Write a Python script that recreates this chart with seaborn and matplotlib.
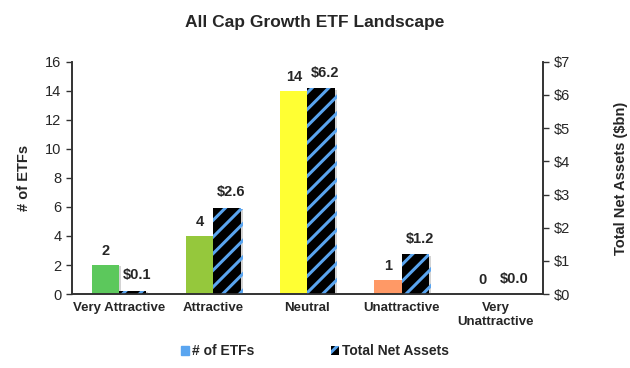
import matplotlib
matplotlib.use("Agg")
import matplotlib.pyplot as plt
import matplotlib.patheffects as pe
from matplotlib.patches import Patch
import seaborn as sns
import pandas as pd

categories = ["Very Attractive", "Attractive", "Neutral", "Unattractive", "Very\nUnattractive"]
num_etfs = [2, 4, 14, 1, 0]
net_assets = [0.1, 2.6, 6.2, 1.2, 0.0]
cat_colors = ["#5cc85c", "#95c83c", "#ffff33", "#ff9966", "#c8c8c8"]
series = ["# of ETFs", "Total Net Assets"]

sns.set_style("white")
plt.rcParams["font.family"] = ["Liberation Sans", "DejaVu Sans"]
plt.rcParams["hatch.linewidth"] = 2.2
plt.rcParams["hatch.color"] = "#5aa5f0"

df_cnt = pd.DataFrame({"cat": categories, "series": series[0], "value": num_etfs})
df_tna = pd.DataFrame({"cat": categories, "series": series[1], "value": net_assets})

fig = plt.figure(figsize=(6.3, 3.68), dpi=100)
ax1 = fig.add_axes([0.114, 0.201, 0.748, 0.631])
ax2 = ax1.twinx()

shadow = [pe.SimplePatchShadow(offset=(1.5, -1), shadow_rgbFace="#aaaaaa", alpha=0.5), pe.Normal()]

sns.barplot(data=df_cnt, x="cat", y="value", hue="series", hue_order=series,
            order=categories, dodge=True, width=0.58, ax=ax1, legend=False)
sns.barplot(data=df_tna, x="cat", y="value", hue="series", hue_order=series,
            order=categories, dodge=True, width=0.58, ax=ax2, legend=False)

bars1 = [p for p in ax1.patches if p.get_width() > 0]
bars2 = [p for p in ax2.patches if p.get_width() > 0]

for p, c, v in zip(bars1, cat_colors, num_etfs):
    p.set_facecolor(c)
    p.set_edgecolor(c)
    p.set_linewidth(0)
    p.set_path_effects(shadow)
    ax1.annotate(str(v), (p.get_x() + p.get_width() / 2, p.get_height()),
                 xytext=(0, 5), textcoords="offset points", ha="center", va="bottom",
                 fontsize=10.5, fontweight="bold")

for p, v in zip(bars2, net_assets):
    p.set_facecolor("black")
    p.set_edgecolor("#5aa5f0")
    p.set_hatch("//")
    p.set_linewidth(0)
    p.set_path_effects(shadow)
    ax2.annotate(f"${v:.1f}", (p.get_x() + p.get_width() / 2, p.get_height()),
                 xytext=(3, 6), textcoords="offset points", ha="center", va="bottom",
                 fontsize=10.5, fontweight="bold")

ax1.set_ylim(0, 16)
ax1.set_yticks(range(0, 17, 2))
ax2.set_ylim(0, 7)
ax2.set_yticks(range(0, 8))
ax2.set_yticklabels([f"${i}" for i in range(0, 8)])
ax1.set_xlim(-0.5, 4.5)

ax1.set_xticks(range(5))
ax1.set_xticklabels(categories, fontweight="bold", fontsize=9.5)
ax1.set_xticks([0.5, 1.5, 2.5, 3.5], minor=True)
ax1.tick_params(axis="x", which="major", length=0, pad=6)
ax1.tick_params(axis="x", which="minor", length=4, width=1, color="#333333", direction="out")
ax1.tick_params(axis="y", length=4, width=1, labelsize=10.5, color="#333333", direction="out", left=True)
ax2.tick_params(axis="y", length=4, width=1, labelsize=10.5, color="#333333", direction="out", right=True)

ax1.set_xlabel("")
ax1.set_ylabel("# of ETFs", fontweight="bold", fontsize=10.5, labelpad=10)
ax2.set_ylabel("Total Net Assets ($bn)", fontweight="bold", fontsize=10.5, labelpad=32)

for ax in (ax1, ax2):
    ax.spines["top"].set_visible(False)
    for s in ("left", "right", "bottom"):
        ax.spines[s].set_color("#333333")
        ax.spines[s].set_linewidth(1.2)

fig.suptitle("All Cap Growth ETF Landscape", fontweight="bold", fontsize=12.5, y=0.96)

handles = [Patch(facecolor="#5aa5f0", edgecolor="#5aa5f0"),
           Patch(facecolor="black", edgecolor="#5aa5f0", hatch="//", linewidth=0)]
fig.legend(handles, series, loc="center", bbox_to_anchor=(0.5, 0.045), ncol=2,
           frameon=False, handlelength=0.6, handleheight=0.6, handletextpad=0.2,
           columnspacing=5.5, prop={"weight": "bold", "size": 10})

fig.savefig("out.png", dpi=100)
